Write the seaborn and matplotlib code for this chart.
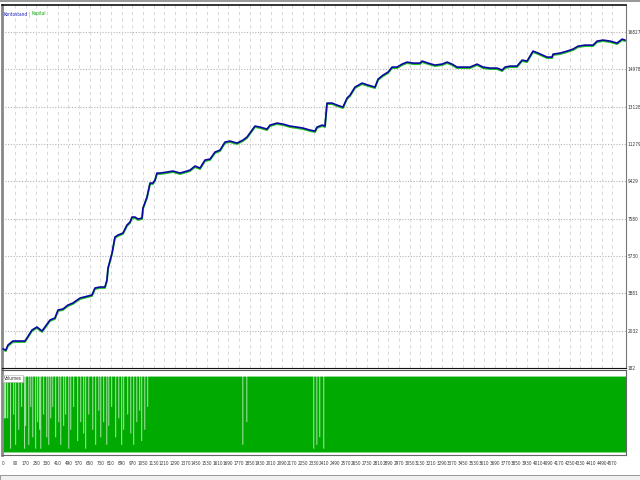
import numpy as np
import matplotlib
matplotlib.use("Agg")
import matplotlib.pyplot as plt
import matplotlib.transforms as mtrans
from matplotlib.patches import Rectangle
import seaborn as sns

sns.set_style("white")
plt.rcParams['font.family'] = ['Liberation Sans Narrow', 'DejaVu Sans']
plt.rcParams['font.stretch'] = 'condensed'

# balance curve (trade number, balance)
trade_no = [0, 22, 38, 75, 165, 180, 218, 255, 293, 315, 353, 390, 413, 450, 488, 525,
            578, 638, 668, 690, 728, 765, 780, 788, 818, 840, 863, 900, 930, 953, 968,
            990, 1013, 1043, 1050, 1080, 1103, 1125, 1140, 1155, 1178, 1230, 1275, 1328,
            1380, 1403, 1440, 1478, 1515, 1553, 1590, 1628, 1665, 1703, 1755, 1800, 1830,
            1868, 1890, 1928, 1980, 2003, 2055, 2100, 2153, 2205, 2250, 2303, 2340, 2355,
            2393, 2415, 2430, 2468, 2505, 2550, 2580, 2603, 2640, 2693, 2738, 2790, 2813,
            2850, 2888, 2918, 2955, 2993, 3030, 3075, 3128, 3143, 3188, 3240, 3293, 3330,
            3368, 3405, 3450, 3503, 3555, 3600, 3653, 3705, 3743, 3765, 3803, 3855, 3893,
            3930, 3975, 4013, 4080, 4118, 4125, 4178, 4230, 4275, 4313, 4365, 4425, 4455,
            4500, 4553, 4605, 4643, 4665]
balance = [1123, 1073, 1321, 1519, 1519, 1668, 2064, 2212, 2014, 2212, 2559, 2658, 3054,
           3104, 3302, 3401, 3648, 3747, 3797, 4144, 4193, 4193, 4540, 5134, 5877, 6669,
           6768, 6867, 7263, 7412, 7660, 7660, 7561, 7610, 8105, 8650, 9343, 9343, 9492,
           9838, 9838, 9888, 9937, 9838, 9937, 9987, 10185, 10086, 10482, 10532, 10878,
           10977, 11374, 11423, 11324, 11473, 11621, 11968, 12166, 12116, 12017, 12215,
           12314, 12265, 12166, 12116, 12067, 11968, 11918, 12116, 12215, 12166, 13305,
           13305, 13206, 13107, 13552, 13701, 14097, 14295, 14196, 14097, 14493, 14691,
           14840, 15088, 15088, 15236, 15335, 15286, 15286, 15385, 15286, 15187, 15236,
           15335, 15236, 15088, 15088, 15088, 15236, 15088, 15038, 15038, 14939, 15088,
           15137, 15137, 15434, 15385, 15880, 15781, 15583, 15583, 15731, 15781, 15880,
           15979, 16127, 16177, 16177, 16375, 16425, 16375, 16276, 16474, 16425]

# volume panel: full lot everywhere except these trades (trade number, relative lot)
n_trades = 4672
vol_trade = [0, 8, 15, 30, 52, 75, 90, 113, 135, 157, 165, 188, 203, 218, 240, 255, 270,
             278, 300, 323, 338, 353, 368, 390, 413, 428, 450, 465, 488, 503, 525, 555,
             578, 600, 615, 638, 668, 690, 713, 728, 750, 773, 788, 810, 840, 863, 885,
             900, 930, 953, 975, 998, 1020, 1035, 1058, 1080, 1793, 1823, 2325, 2348,
             2370, 2400]
vol_level = [0.45, 0.45, 0.45, 0.45, 0.05, 0.5, 0.1, 0.3, 0.6, 0.05, 0.35, 0.1, 0.6, 0.2,
             0.05, 0.4, 0.3, 0.05, 0.5, 0.2, 0.1, 0.45, 0.6, 0.2, 0.4, 0.1, 0.35, 0.5,
             0.05, 0.3, 0.6, 0.15, 0.4, 0.25, 0.05, 0.5, 0.3, 0.1, 0.55, 0.2, 0.4, 0.1,
             0.35, 0.6, 0.2, 0.45, 0.1, 0.3, 0.5, 0.25, 0.1, 0.4, 0.55, 0.15, 0.3, 0.6,
             0.1, 0.4, 0.05, 0.1, 0.2, 0.05]

y_ticks = [182, 2032, 3881, 5730, 7580, 9429, 11279, 13128, 14978, 16827]
x_ticks = [0] + list(range(90, 4571, 80))

blue = "#0a0aa0"
green = "#00aa00"
grid_col = "#d2d2d2"

fig = plt.figure(figsize=(6.4, 4.8), dpi=100)
W, H = 640.0, 480.0
ax = fig.add_axes([2 / W, 1 - 368 / H, 624 / W, 363 / H])
axv = fig.add_axes([2 / W, 1 - 455 / H, 624 / W, 85 / H])

# --- main panel
for yv in y_ticks:
    ax.axhline(yv, color="#b4b4b4", lw=0.8, ls=(0, (1, 1.5)), zorder=0)
for xv in x_ticks:
    ax.axvline(xv, color=grid_col, lw=0.6, ls=(0, (4, 4)), zorder=0)

shift = mtrans.offset_copy(ax.transData, fig=fig, x=0, y=-1.0, units='dots')
sns.lineplot(x=trade_no, y=balance, ax=ax, color="#22c022", lw=1.3,
             transform=shift, zorder=2)
sns.lineplot(x=trade_no, y=balance, ax=ax, color=blue, lw=1.2, zorder=3)

ax.set_xlim(-7, n_trades)
ax.set_ylim(182, 18164)
ax.set_xticks([])
ax.yaxis.tick_right()
ax.set_yticks(y_ticks)
ax.set_yticklabels([str(v) for v in y_ticks], fontsize=3.4, color="#333333")
ax.tick_params(axis="y", length=0, pad=1)
ax.set_xlabel("")
ax.set_ylabel("")
ax.spines["top"].set_color("#111111")
ax.spines["top"].set_linewidth(1.2)
ax.spines["bottom"].set_color("#111111")
ax.spines["bottom"].set_linewidth(0.8)
ax.spines["right"].set_color("#777777")
ax.spines["left"].set_color("#888888")
ax.spines["left"].set_linewidth(2)

# legend text, placed one after another
fig.canvas.draw()
rend = fig.canvas.get_renderer()
x_px = 3.5
for word, col in [("Kontostand", "#2020c0"), ("|", "#999999"), ("Kapital", "#10b010")]:
    t = fig.text(x_px / W, 1 - 14 / H, word, color=col, fontsize=3.4, va="center")
    x_px = t.get_window_extent(rend).x1 + 1.0

# --- volume panel
vol = np.ones(n_trades)
for t, lv in zip(vol_trade, vol_level):
    vol[t:t + 5] = lv
axv.fill_between(np.arange(n_trades), 0, vol, step="post", color=green, lw=0)
axv.set_xlim(-7, n_trades)
axv.set_ylim(-0.04, 1.08)
axv.set_yticks([])
axv.set_xticks(x_ticks)
axv.set_xticklabels([str(v) for v in x_ticks], fontsize=3.3, color="#333333")
axv.tick_params(axis="x", length=3, width=0.6, color="#555555", pad=1.5)
for s in axv.spines.values():
    s.set_color("#666666")
    s.set_linewidth(0.8)
axv.spines["top"].set_color("#555555")
axv.spines["left"].set_linewidth(2)
axv.spines["left"].set_color("#888888")
axv.text(0.003, 0.93, "Volumes", transform=axv.transAxes, fontsize=3.4, color="#333333",
         va="top", ha="left",
         bbox=dict(facecolor="white", edgecolor="#aaaaaa", lw=0.4, pad=0.6))

# window chrome at the top and bottom
fig.add_artist(Rectangle((0, 1 - 1.5 / H), 1, 1.5 / H, transform=fig.transFigure,
                         color="#999999", lw=0))
fig.add_artist(Rectangle((0, 0), 1, 5 / H, transform=fig.transFigure,
                         facecolor="#f0f0f0", edgecolor="#888888", lw=0.6))

fig.savefig("out.png", dpi=100)
